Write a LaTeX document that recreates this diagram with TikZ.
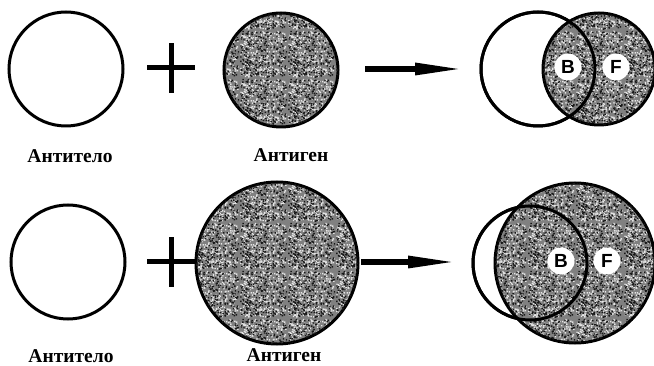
\documentclass[tikz,border=0pt]{standalone}
\usepackage{fontspec}
\setmainfont{Liberation Serif}
\newfontfamily\sitefont{Liberation Sans}
\usetikzlibrary{arrows.meta,patterns}

% grainy texture of the antigen, one tile of random specks
\pgfdeclarepatternformonly{speckle light}{\pgfpointorigin}{\pgfpoint{48pt}{48pt}}{\pgfpoint{48pt}{48pt}}{%
  \pgfmathsetseed{7}%
  \foreach \k in {1,...,330}{%
    \pgfmathsetmacro\px{rnd*46.6}\pgfmathsetmacro\py{rnd*46.6}%
    \pgfpathrectangle{\pgfpoint{\px pt}{\py pt}}{\pgfpoint{1.4pt}{1.4pt}}%
    \pgfusepath{fill}}}
\pgfdeclarepatternformonly{speckle dark}{\pgfpointorigin}{\pgfpoint{48pt}{48pt}}{\pgfpoint{48pt}{48pt}}{%
  \pgfmathsetseed{31}%
  \foreach \k in {1,...,260}{%
    \pgfmathsetmacro\px{rnd*46.6}\pgfmathsetmacro\py{rnd*46.6}%
    \pgfpathrectangle{\pgfpoint{\px pt}{\py pt}}{\pgfpoint{1.4pt}{1.4pt}}%
    \pgfusepath{fill}}}

\begin{document}
\begin{tikzpicture}[x=1pt, y=-1pt,
  body/.style={circle, draw, line width=3pt, minimum size=2*#1pt, inner sep=0pt},
  gen/.style={body=#1, preaction={fill=black!50}, pattern=speckle light, pattern color=white!90!black,
    postaction={pattern=speckle dark, pattern color=black!90}},
  site/.style={circle, fill=white, minimum size=27pt, inner sep=0pt, font=\sitefont\bfseries\fontsize{19}{19}\selectfont},
  label/.style={font=\bfseries\fontsize{19.5}{19.5}\selectfont},
  plusbar/.style={line width=5pt},
  reaction/.style={line width=6pt, -{Triangle[length=51pt, width=11pt]}}]
  \useasboundingbox (0,0) rectangle (654,366);

  % top row: antigen the same size as the antibody
  \node[body=57] (ab1) at (66,69) {};
  \node[gen=57] (ag1) at (281,70) {};
  \node[label] (ablab1) at (70,156) {Антитело};
  \node[label] (aglab1) at (291,155) {Антиген};
  \coordinate (plus1) at (171,68);
  \draw[plusbar] ([xshift=-24pt]plus1) -- ([xshift=24pt]plus1);
  \draw[plusbar] ([yshift=-25pt]plus1) -- ([yshift=25pt]plus1);
  \coordinate (from1) at (365,69);
  \coordinate (to1) at (466,69);
  \draw[reaction] (from1) -- (to1);
  \node[body=57] (res1w) at (538,69) {};
  \node[gen=56] (res1g) at (599,69) {};
  \draw[line width=3pt] (res1w.center) circle[radius=57];
  \node[site] (b1) at (568,67) {B};
  \node[site] (f1) at (616,67) {F};

  % bottom row: large antigen
  \node[body=57] (ab2) at (68,262) {};
  \node[gen=81] (ag2) at (277,263) {};
  \node[label] (ablab2) at (71,356) {Антитело};
  \node[label] (aglab2) at (284,355) {Антиген};
  \coordinate (plus2) at (171,262);
  \draw[plusbar] ([xshift=-24pt]plus2) -- ([xshift=24pt]plus2);
  \draw[plusbar] ([yshift=-25pt]plus2) -- ([yshift=25pt]plus2);
  \coordinate (from2) at (361,262);
  \coordinate (to2) at (459,262);
  \draw[reaction] (from2) -- (to2);
  \node[body=57] (res2w) at (530,263) {};
  \node[gen=80] (res2g) at (575,263) {};
  \draw[line width=3pt] (res2w.center) circle[radius=57];
  \node[site] (b2) at (561,261) {B};
  \node[site] (f2) at (607,261) {F};
\end{tikzpicture}
\end{document}
